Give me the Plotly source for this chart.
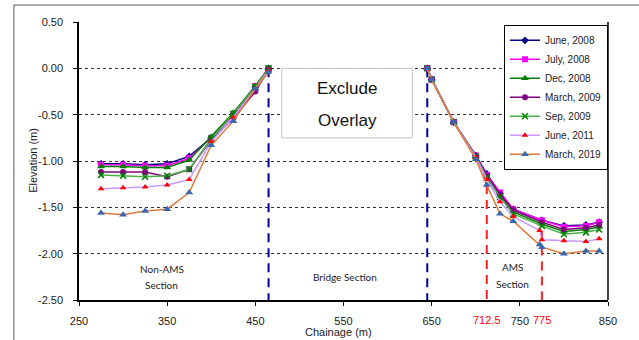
import plotly.graph_objects as go

# ---------------- data ----------------
chain_left = [275, 300, 325, 350, 375, 400, 425, 450, 465]
chain_right = [645, 650, 675, 700, 712.5, 727.5, 742.5, 775, 800, 825, 840]
chain_right_ext = [645, 650, 675, 700, 712.5, 727.5, 742.5, 772.5, 775, 800, 825, 840]

series_names = ["June, 2008", "July, 2008", "Dec, 2008", "March, 2009",
                "Sep, 2009", "June, 2011", "March, 2019"]

jun2008_left = [-1.03, -1.03, -1.04, -1.03, -0.95, -0.75, -0.50, -0.20, 0.00]
jun2008_right = [0.00, -0.12, -0.58, -0.94, -1.14, -1.35, -1.52, -1.64, -1.70, -1.69, -1.66]

jul2008_left = [-1.04, -1.04, -1.05, -1.05, -0.97, -0.75, -0.50, -0.19, 0.00]
jul2008_right = [0.00, -0.12, -0.58, -0.94, -1.15, -1.34, -1.52, -1.64, -1.71, -1.70, -1.66]

dec2008_left = [-1.06, -1.06, -1.07, -1.07, -0.99, -0.74, -0.48, -0.19, 0.00]
dec2008_right = [0.00, -0.12, -0.58, -0.95, -1.17, -1.38, -1.55, -1.68, -1.76, -1.74, -1.71]

mar2009_left = [-1.12, -1.12, -1.12, -1.17, -1.09, -0.77, -0.54, -0.25, -0.01]
mar2009_right = [0.00, -0.12, -0.58, -0.95, -1.16, -1.36, -1.53, -1.66, -1.74, -1.72, -1.69]

sep2009_left = [-1.15, -1.16, -1.17, -1.16, -1.09, -0.76, -0.49, -0.20, 0.00]
sep2009_right = [0.00, -0.12, -0.58, -0.95, -1.18, -1.39, -1.57, -1.70, -1.79, -1.77, -1.74]

jun2011_left = [-1.30, -1.29, -1.28, -1.26, -1.20, -0.79, -0.53, -0.22, -0.02]
jun2011_right = [0.00, -0.12, -0.58, -0.96, -1.20, -1.44, -1.60, -1.75, -1.85, -1.86, -1.87, -1.84]

mar2019_left = [-1.56, -1.58, -1.54, -1.52, -1.34, -0.83, -0.57, -0.22, -0.04]
mar2019_right = [0.00, -0.12, -0.58, -0.98, -1.26, -1.57, -1.65, -1.90, -1.93, -2.00, -1.97, -1.97]

# vertical section boundaries
divider_x = [465, 645, 712.5, 775]
divider_top = [0.0, 0.0, -1.26, -1.76]
divider_color = ["#000099", "#000099", "#FF2020", "#FF2020"]

y_ticks = [0.5, 0.0, -0.5, -1.0, -1.5, -2.0, -2.5]
x_ticks = [250, 350, 450, 550, 650, 750, 850]
red_labels = [712.5, 775]

# ---------------- figure ----------------
fig = go.Figure()

for xv, top, col in zip(divider_x, divider_top, divider_color):
    fig.add_trace(go.Scatter(x=[xv, xv], y=[top, -2.5], mode="lines",
                             line=dict(color=col, width=2, dash="9px,6px"),
                             showlegend=False, hoverinfo="skip"))

styles = [
    dict(line="#000080", marker=dict(symbol="diamond", color="#000080", size=6)),
    dict(line="#FF00FF", marker=dict(symbol="square", color="#FF00FF", size=6)),
    dict(line="#008000", marker=dict(symbol="triangle-up", color="#008000", size=7)),
    dict(line="#800080", marker=dict(symbol="circle", color="#800080", size=6)),
    dict(line="#4CB04C", marker=dict(symbol="x-thin", size=6,
                                     line=dict(color="#008000", width=1.5))),
    dict(line="#CC99FF", marker=dict(symbol="triangle-up", color="#FF0000", size=6)),
    dict(line="#E07B39", marker=dict(symbol="triangle-up", color="#3A67B0", size=7)),
]

data = [
    (jun2008_left, jun2008_right, chain_right),
    (jul2008_left, jul2008_right, chain_right),
    (dec2008_left, dec2008_right, chain_right),
    (mar2009_left, mar2009_right, chain_right),
    (sep2009_left, sep2009_right, chain_right),
    (jun2011_left, jun2011_right, chain_right_ext),
    (mar2019_left, mar2019_right, chain_right_ext),
]

for name, (yl, yr, xr), st in zip(series_names, data, styles):
    fig.add_trace(go.Scatter(
        x=chain_left + [None] + xr,
        y=yl + [None] + yr,
        mode="lines+markers", name=name, connectgaps=False,
        line=dict(color=st["line"], width=1.5),
        marker=st["marker"],
    ))

font_main = "Liberation Sans, Arial, sans-serif"
font_sec = "Lato, Open Sans, sans-serif"

fig.update_layout(
    width=639, height=340,
    margin=dict(l=79, r=31, t=22, b=40),
    paper_bgcolor="white", plot_bgcolor="white",
    font=dict(family=font_main, size=11, color="#1a1a1a"),
    showlegend=True,
    legend=dict(x=1.0, xanchor="right", y=0.99, yanchor="top",
                bgcolor="white", bordercolor="black", borderwidth=1,
                font=dict(size=10, color="#1a1a1a"), itemwidth=30,
                tracegroupgap=0),
    xaxis=dict(range=[250, 850], tickvals=x_ticks, ticktext=[str(v) for v in x_ticks],
               showgrid=False, zeroline=False, showline=True, linecolor="black",
               linewidth=1.5, ticks="outside", ticklen=4, tickcolor="black",
               ticklabelstandoff=6,
               tickfont=dict(size=11, color="#1a1a1a")),
    yaxis=dict(range=[-2.5, 0.5], tickvals=y_ticks, ticktext=[f"{v:.2f}" for v in y_ticks],
               showgrid=True, gridcolor="#333333", griddash="dot", gridwidth=1,
               zeroline=False, showline=True, linecolor="black", linewidth=1.5,
               ticks="outside", ticklen=4, tickcolor="black",
               ticklabelstandoff=8,
               tickfont=dict(size=11, color="#1a1a1a")),
)

shapes = [
    # right plot border
    dict(type="line", xref="paper", yref="paper", x0=1, x1=1, y0=0, y1=1,
         line=dict(color="black", width=1.5)),
    # outer chart frame (left and top edges)
    dict(type="line", xref="paper", yref="paper", x0=-0.123, x1=-0.123, y0=-0.2, y1=1.061,
         line=dict(color="#555555", width=1)),
    dict(type="line", xref="paper", yref="paper", x0=-0.123, x1=1.1, y0=1.061, y1=1.061,
         line=dict(color="#555555", width=1)),
    # "Exclude Overlay" box
    dict(type="rect", xref="x", yref="y", x0=480, x1=628, y0=0.0, y1=-0.75,
         fillcolor="white", line=dict(color="#c8c8c8", width=1), layer="above"),
]
fig.update_layout(shapes=shapes)

ann = []
ann.append(dict(x=554, y=-0.215, xref="x", yref="y", text="Exclude", showarrow=False,
                font=dict(size=17, family=font_main, color="#111111")))
ann.append(dict(x=554, y=-0.56, xref="x", yref="y", text="Overlay", showarrow=False,
                font=dict(size=17, family=font_main, color="#111111")))
for txt, xv, yv in [("Non-AMS", 344, -2.167), ("Section", 344, -2.336),
                    ("Bridge Section", 552, -2.247),
                    ("AMS", 742, -2.145), ("Section", 742, -2.329)]:
    ann.append(dict(x=xv, y=yv, xref="x", yref="y", text=txt, showarrow=False,
                    font=dict(size=10, family=font_sec, color="#222222")))
for v in red_labels:
    ann.append(dict(x=v, y=-0.072, xref="x", yref="paper", text=str(v), showarrow=False,
                    yanchor="middle", font=dict(size=11, family=font_main, color="#FF0000")))
ann.append(dict(x=0.49, y=-0.115, xref="paper", yref="paper", text="Chainage (m)",
                showarrow=False, yanchor="middle",
                font=dict(size=11, family=font_main, color="#1a1a1a")))
ann.append(dict(x=-0.087, y=0.504, xref="paper", yref="paper", text="Elevation (m)",
                showarrow=False, textangle=-90, xanchor="center", yanchor="middle",
                font=dict(size=11, family=font_main, color="#1a1a1a")))
fig.update_layout(annotations=ann)

fig.write_html("out.html")
